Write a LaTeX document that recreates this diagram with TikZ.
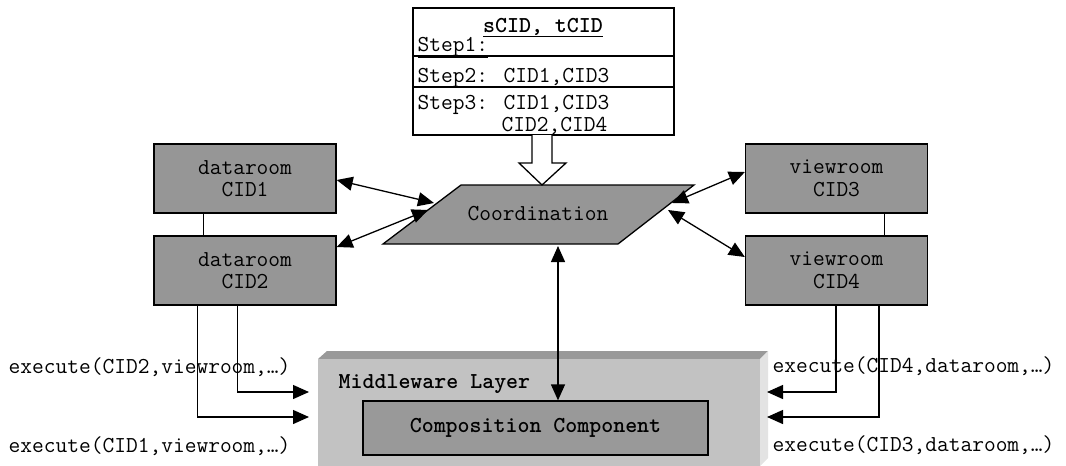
\documentclass[tikz,border=0pt]{standalone}
\usetikzlibrary{arrows.meta,calc}
\definecolor{boxgray}{gray}{0.59}
\definecolor{compgray}{gray}{0.6}
\definecolor{mwfront}{gray}{0.76}
\definecolor{mwtop}{gray}{0.6}
\definecolor{mwside}{gray}{0.89}
\tikzset{
  room/.style={draw, fill=boxgray, minimum width=182pt, minimum height=69pt, align=center, inner sep=0pt,
    font=\ttfamily\fontsize{22.8}{22.5}\selectfont},
  lbl/.style={anchor=base west, inner sep=0pt},
  tip/.style={-{Triangle[length=16pt,width=14pt]}},
  dtip/.style={{Triangle[length=16pt,width=14pt]}-{Triangle[length=16pt,width=14pt]}},
}
\begin{document}
\begin{tikzpicture}[x=1pt,y=-1pt, font=\ttfamily\fontsize{22.8}{20}\selectfont, line width=1.3pt]
\useasboundingbox (0,0) rectangle (1066,466);

% spec box
\node[draw, fill=white, minimum width=261pt, minimum height=127pt, inner sep=0pt] (spec) at (543.5,71.5) {};
\draw (412.5,56) -- (674.5,56);
\draw (412.5,87) -- (674.5,87);
\node[anchor=base, inner sep=0pt] (title) at (543,32) {\bfseries\underline{sCID, tCID}};
\node[lbl] (s1) at (417,51) {\underline{Step1:}};
\node[lbl] (s2) at (417,82) {Step2: CID1,CID3};
\node[lbl] (s3) at (417,109) {Step3: CID1,CID3};
\node[lbl] (s3b) at (501,131) {CID2,CID4};

% coordination
\draw[fill=boxgray] (461,185) -- (694,185) -- (618,244) -- (383,244) -- cycle;
\node[inner sep=0pt] (coord) at (538,214) {Coordination};
\coordinate (pL1) at (434,203);
\coordinate (pL2) at (428,210);
\coordinate (pR1) at (672,203);
\coordinate (pR2) at (668,210);
\coordinate (pB) at (558,246);

% hollow arrow
\draw[fill=white, line join=miter] (532,135) -- (532,163) -- (519,163) -- (542,185) -- (566,163) -- (552,163) -- (552,135);

% rooms
\node[room] (d1) at (245,178.5) {dataroom\\CID1};
\node[room] (d2) at (245,270.5) {dataroom\\CID2};
\node[room] (v3) at (836.5,178.5) {viewroom\\CID3};
\node[room] (v4) at (836.5,270.5) {viewroom\\CID4};
\draw ($(d1.south west)+(50,0)$) -- ($(d2.north west)+(50,0)$);
\draw ($(v3.south east)+(-44,0)$) -- ($(v4.north east)+(-44,0)$);

\draw[dtip] (d1.east |- 0,180) -- (pL1);
\draw[dtip] (d2.east |- 0,247) -- (pL2);
\draw[dtip] (v3.west |- 0,172) -- (pR1);
\draw[dtip] (v4.west |- 0,257) -- (pR2);

% middleware
\fill[mwtop] (318,359) -- (327,351) -- (768,351) -- (760,359) -- cycle;
\fill[mwside] (760,359) -- (768,351) -- (768,458) -- (760,466) -- cycle;
\node[fill=mwfront, minimum width=442pt, minimum height=107pt, inner sep=0pt] (mw) at (539,412.5) {};
\node[lbl] (mwl) at (338,388) {\bfseries Middleware Layer};
\node[draw, fill=compgray, minimum width=345pt, minimum height=54pt, inner sep=0pt] (comp) at (535.5,428) {\bfseries Composition Component};

\draw[dtip] (pB) -- (comp.north -| pB);

% execute labels
\node[lbl] (e2) at (8,373) {execute(CID2,viewroom,…)};
\node[lbl] (e1) at (8,452) {execute(CID1,viewroom,…)};
\node[lbl] (e4) at (772,372) {execute(CID4,dataroom,…)};
\node[lbl] (e3) at (772,451) {execute(CID3,dataroom,…)};

\coordinate (inL1) at (309,392);
\coordinate (inL2) at (309,417);
\coordinate (inR1) at (767,392);
\coordinate (inR2) at (767,417);
\draw[tip] ($(d2.south west)+(84,0)$) |- (inL1);
\draw[tip] ($(d2.south west)+(44,0)$) |- (inL2);
\draw[tip] ($(v4.south west)+(91,0)$) |- (inR1);
\draw[tip] ($(v4.south west)+(134,0)$) |- (inR2);
\end{tikzpicture}
\end{document}
